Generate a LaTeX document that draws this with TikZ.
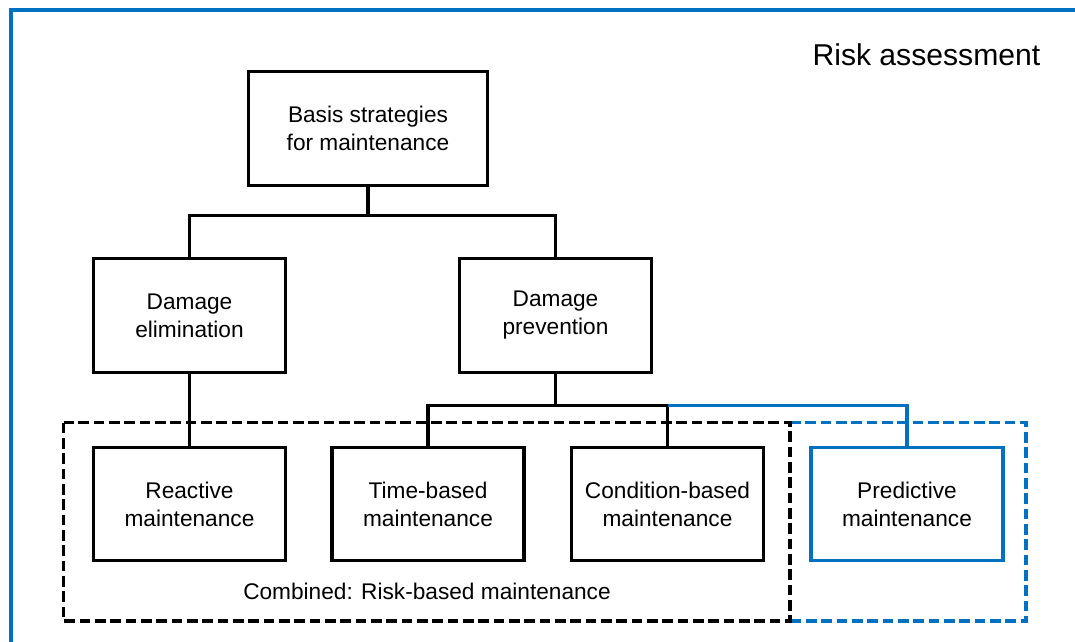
\documentclass[tikz,border=0pt]{standalone}
\usepackage{fontspec}
\setmainfont{Liberation Sans}
\usepackage{xcolor}
\definecolor{riskblue}{RGB}{0,112,192}

\begin{document}
\begin{tikzpicture}[x=0.75pt,y=-0.75pt,
  box/.style={draw,line width=2.3pt,minimum width=144pt,minimum height=85pt,
    align=center,inner sep=0pt,font=\fontsize{17}{21}\selectfont},
  link/.style={line width=2.4pt},
  group/.style={line width=2.4pt,dash pattern=on 8pt off 3.5pt}]
  \useasboundingbox (0,0) rectangle (1075,642);
  \clip (0,0) rectangle (1075,642);
  % --- outer frame
  \draw[riskblue,line width=3pt] (10.5,10.5) rectangle (1090,660);
  \node[anchor=base east,font=\fontsize{22.6}{27}\selectfont] (risk) at (1045,65) {Risk assessment};
  % --- tree
  \node[box,minimum width=179pt,minimum height=86pt] (basis) at (368,128.5) {Basis strategies\\for maintenance};
  \node[box] (elim) at (189.5,315.5) {Damage\\elimination};
  \node[box] (prev) at (555.5,315.5) {Damage\\prevention};
  \node[box] (react) at (189.5,504) {Reactive\\maintenance};
  \node[box] (time) at (428,504) {Time-based\\maintenance};
  \node[box] (cond) at (667.5,504) {Condition-based\\maintenance};
  \node[box,draw=riskblue] (pred) at (907,504) {Predictive\\maintenance};
  % --- connectors
  \path (basis.south) ++(0,28) coordinate (bbar);
  \path (prev.south) ++(0,32) coordinate (pbar);
  \draw[link] (basis.south) -- (bbar) -| (elim.north);
  \draw[link] (bbar) -| (prev.north);
  \draw[link] (elim) -- (react);
  \draw[link] (prev.south) -- (pbar) -| (time.north);
  \draw[link] (pbar) -| (cond.north);
  \draw[link,riskblue] (cond.north |- pbar) -| (pred.north);
  % --- groups
  \draw[group,riskblue] (790,422.5) -- (1026,422.5) -- (1026,621) -- (790,621);
  \draw[group] (63.5,422.5) rectangle (790,621);
  \node[anchor=base,font=\fontsize{17}{21}\selectfont] (combined) at (427,599) {Combined: Risk-based maintenance};
\end{tikzpicture}
\end{document}
